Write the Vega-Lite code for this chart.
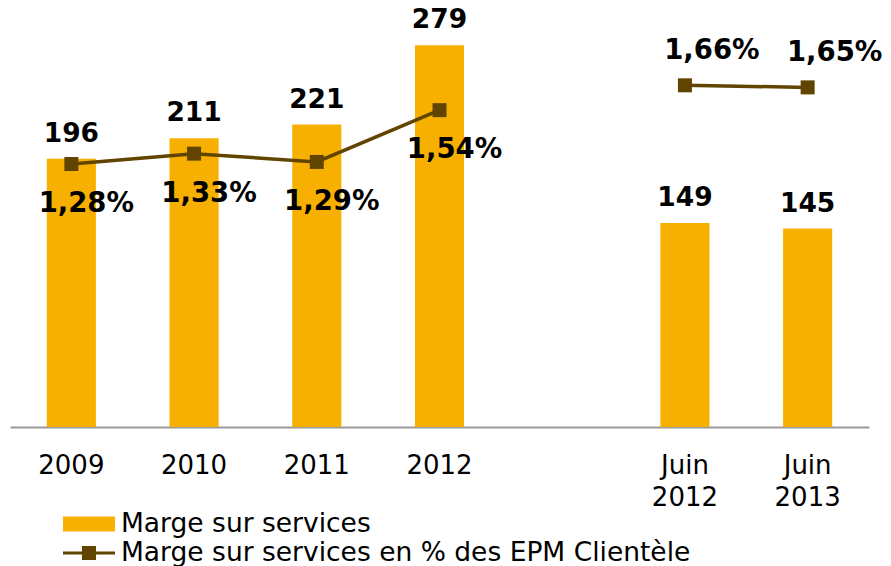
{
  "$schema": "https://vega.github.io/schema/vega-lite/v6.json",
  "width": 859,
  "height": 427,
  "autosize": {"type": "none"},
  "padding": {"left": 10, "top": 0, "right": 22, "bottom": 139},
  "background": "white",
  "config": {
    "view": {"stroke": null},
    "font": "DejaVu Sans",
    "text": {"font": "DejaVu Sans"}
  },
  "data": {
    "values": [
      {"cat": "2009", "marge": 196, "pct": 1.28, "periode": "annuel"},
      {"cat": "2010", "marge": 211, "pct": 1.33, "periode": "annuel"},
      {"cat": "2011", "marge": 221, "pct": 1.29, "periode": "annuel"},
      {"cat": "2012", "marge": 279, "pct": 1.54, "periode": "annuel"},
      {"cat": "Juin 2012", "marge": 149, "pct": 1.66, "periode": "semestre"},
      {"cat": "Juin 2013", "marge": 145, "pct": 1.65, "periode": "semestre"}
    ]
  },
  "transform": [
    {"calculate": "replace(format(datum.pct, '.2f'), '.', ',') + '%'", "as": "pctLabel"}
  ],
  "encoding": {
    "x": {
      "field": "cat",
      "type": "nominal",
      "sort": null,
      "scale": {
        "domain": ["2009", "2010", "2011", "2012", " ", "Juin 2012", "Juin 2013"],
        "paddingInner": 0.6,
        "paddingOuter": 0.3
      },
      "axis": {
        "title": null,
        "ticks": false,
        "labelAngle": 0,
        "labelFont": "DejaVu Sans",
        "labelFontSize": 26,
        "labelColor": "#000000",
        "labelPadding": 25,
        "labelLineHeight": 32,
        "labelExpr": "datum.value == 'Juin 2012' ? ['Juin', '2012'] : datum.value == 'Juin 2013' ? ['Juin', '2013'] : datum.value",
        "domainColor": "#9a9a9a",
        "domainWidth": 2,
        "grid": false
      }
    }
  },
  "layer": [
    {
      "mark": {"type": "bar"},
      "encoding": {
        "y": {"field": "marge", "type": "quantitative", "scale": {"domain": [0, 312], "zero": false, "nice": false}, "axis": null},
        "fill": {
          "datum": "Marge sur services",
          "type": "nominal",
          "scale": {"range": ["#F7B000"]},
          "legend": {
            "title": null,
            "orient": "none",
            "legendX": 53,
            "legendY": 498,
            "padding": 0,
            "symbolType": "M-1,-0.288H1V0.288H-1Z",
            "symbolSize": 2704,
            "symbolStrokeWidth": 0,
            "labelOffset": 6,
            "labelLimit": 0,
            "labelFont": "DejaVu Sans",
            "labelFontSize": 26.5,
            "labelColor": "#000000"
          }
        }
      }
    },
    {
      "mark": {"type": "line", "strokeWidth": 3.5},
      "encoding": {
        "y": {"field": "pct", "type": "quantitative", "scale": {"domain": [0.01, 2.072], "zero": false, "nice": false}, "axis": null},
        "detail": {"field": "periode"},
        "stroke": {
          "datum": "Marge sur services en % des EPM Clientèle",
          "type": "nominal",
          "scale": {"range": ["#604400"]},
          "legend": {
            "title": null,
            "orient": "none",
            "legendX": 53,
            "legendY": 527,
            "padding": 0,
            "symbolType": "M-1,-0.06H1V0.06H-1Z M-0.27,-0.27H0.27V0.27H-0.27Z",
            "symbolSize": 2704,
            "symbolStrokeWidth": 0,
            "symbolFillColor": "#604400",
            "labelOffset": 6,
            "labelLimit": 0,
            "labelFont": "DejaVu Sans",
            "labelFontSize": 26.5,
            "labelColor": "#000000"
          }
        }
      }
    },
    {
      "mark": {"type": "point", "shape": "square", "size": 196, "filled": true, "opacity": 1, "color": "#604400"},
      "encoding": {
        "y": {"field": "pct", "type": "quantitative", "scale": {"domain": [0.01, 2.072], "zero": false, "nice": false}, "axis": null}
      }
    },
    {
      "mark": {"type": "text", "font": "DejaVu Sans", "fontWeight": "bold", "fontSize": 26.5, "baseline": "alphabetic", "dy": -17, "color": "#000000"},
      "encoding": {
        "y": {"field": "marge", "type": "quantitative", "scale": {"domain": [0, 312], "zero": false, "nice": false}, "axis": null},
        "text": {"field": "marge", "type": "quantitative"}
      }
    },
    {
      "transform": [{"filter": "datum.periode == 'annuel'"}],
      "mark": {"type": "text", "font": "DejaVu Sans", "fontWeight": "bold", "fontSize": 27.5, "baseline": "alphabetic", "dx": 15, "dy": 48, "color": "#000000"},
      "encoding": {
        "y": {"field": "pct", "type": "quantitative", "scale": {"domain": [0.01, 2.072], "zero": false, "nice": false}, "axis": null},
        "text": {"field": "pctLabel", "type": "nominal"}
      }
    },
    {
      "transform": [{"filter": "datum.periode == 'semestre'"}],
      "mark": {"type": "text", "font": "DejaVu Sans", "fontWeight": "bold", "fontSize": 27.5, "baseline": "alphabetic", "dx": 27, "dy": -26, "color": "#000000"},
      "encoding": {
        "y": {"field": "pct", "type": "quantitative", "scale": {"domain": [0.01, 2.072], "zero": false, "nice": false}, "axis": null},
        "text": {"field": "pctLabel", "type": "nominal"}
      }
    }
  ],
  "resolve": {"scale": {"y": "independent", "fill": "independent", "stroke": "independent"}}
}
